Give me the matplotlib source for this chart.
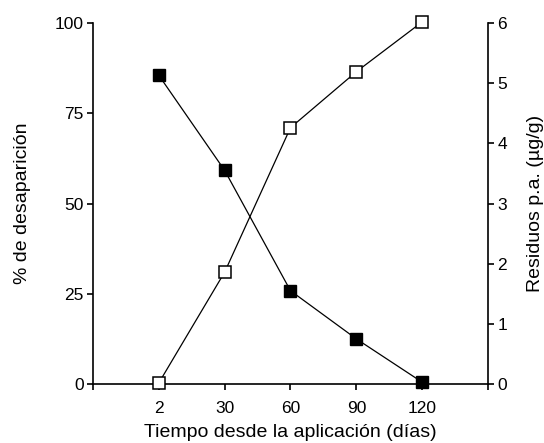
import matplotlib
matplotlib.use("Agg")
import matplotlib.pyplot as plt

plt.rcParams['font.family'] = ['Liberation Sans', 'DejaVu Sans']

categories = ["2", "30", "60", "90", "120"]
desaparicion = [0.3, 31, 71, 86.5, 100.3]      # % de desaparición (left axis)
residuos = [5.13, 3.55, 1.55, 0.75, 0.03]      # µg/g (right axis)

fig = plt.figure(figsize=(5.44, 4.43), dpi=100)
ax = fig.add_axes([93/544, 1-384/443, (488-93)/544, (384-23)/443])
ax2 = ax.twinx()

x = list(range(len(categories)))
ax.plot(x, desaparicion, color='black', lw=0.9, marker='s', ms=8,
        mfc='white', mec='black', mew=1.1, zorder=3, clip_on=False)
ax2.plot(x, residuos, color='black', lw=0.9, marker='s', ms=8.8,
         mfc='black', mec='black', zorder=3, clip_on=False)

ax.set_xlim(-1, 5)
ax.set_ylim(0, 100)
ax2.set_ylim(0, 6)
ax.set_xticks([-1] + x + [5])
ax.set_xticklabels([""] + categories + [""])
ax.set_yticks([0, 25, 50, 75, 100])
ax2.set_yticks(range(0, 7))

for a in (ax, ax2):
    a.spines['top'].set_visible(False)
    for s in a.spines.values():
        s.set_linewidth(1.2)
    a.tick_params(direction='out', length=4.3, width=1.2, labelsize=12.5, pad=2.5)
ax.tick_params(axis='x', pad=8)
ax.spines['right'].set_visible(False)
ax2.spines['left'].set_visible(False)
ax2.spines['bottom'].set_visible(False)

ax.set_xlabel("Tiempo desde la aplicación (días)", fontsize=14, labelpad=6)
ax.set_ylabel("% de desaparición", fontsize=14, labelpad=17)
ax2.set_ylabel("Residuos p.a. (µg/g)", fontsize=14, labelpad=14)

fig.savefig("out.png", dpi=100)
